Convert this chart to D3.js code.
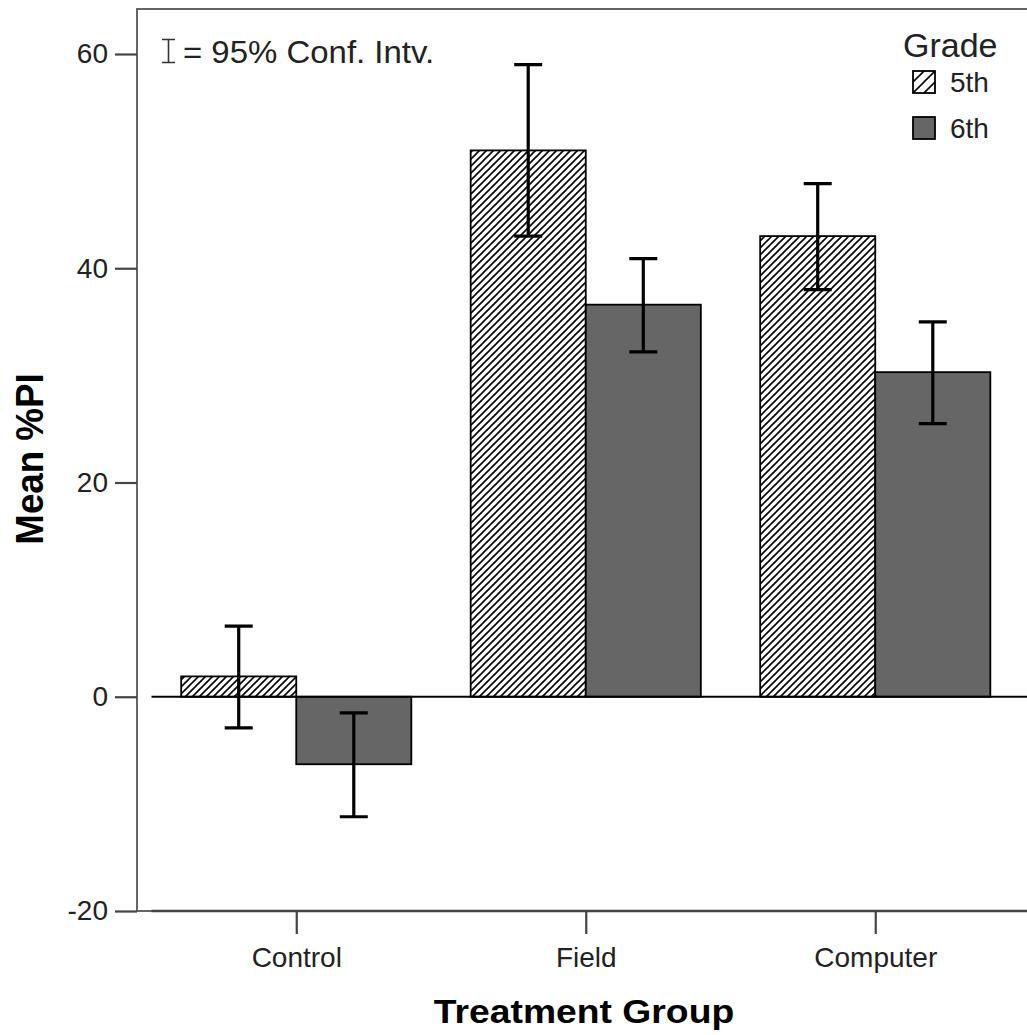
<!DOCTYPE html>
<html>
<head>
<meta charset="utf-8">
<script src="https://cdn.jsdelivr.net/npm/d3@7"></script>
<style>
  body { margin: 0; background: #fff; }
  text { font-family: "Liberation Sans", Arial, sans-serif; }
</style>
</head>
<body>
<svg id="chart" width="1027" height="1035"></svg>
<script>
// data
const categories = ["Control", "Field", "Computer"]
const grades = ["5th", "6th"]
const mean5th = [1.9, 51.0, 43.0]
const mean6th = [-6.3, 36.6, 30.3]
const lo5th = [-2.9, 43.0, 38.0]
const hi5th = [6.6, 59.0, 47.9]
const lo6th = [-11.2, 32.2, 25.5]
const hi6th = [-1.5, 40.9, 35.0]
const yTicks = [-20, 0, 20, 40, 60]

const rows = categories.flatMap((c, i) => [
    {cat: c, grade: "5th", mean: mean5th[i], lo: lo5th[i], hi: hi5th[i]},
    {cat: c, grade: "6th", mean: mean6th[i], lo: lo6th[i], hi: hi6th[i]}
])

const svg = d3.select("#chart")
const frameLeft = 137, frameTop = 9, frameBottom = 911, plotLeft = 151.5, plotRight = 1020

const x = d3.scalePoint().domain(categories).range([plotLeft, plotRight]).padding(0.5)
const groupW = x.step() * 0.795
const xg = d3.scaleBand().domain(grades).range([-groupW / 2, groupW / 2])
const y = d3.scaleLinear().domain([-20, 64.2]).range([frameBottom, frameTop])

const fills = {"5th": "url(#hatch)", "6th": "#666666"}

// hatch patterns
const defs = svg.append("defs")
const makeHatch = (id, s) => {
    defs.append("pattern")
        .attr("id", id)
        .attr("patternUnits", "userSpaceOnUse")
        .attr("width", s).attr("height", s)
      .append("path")
        .attr("d", `M${-s / 4},${s / 4} l${s / 2},${-s / 2} M0,${s} l${s},${-s} M${s * 0.75},${s * 1.25} l${s / 2},${-s / 2}`)
        .attr("stroke", "#000")
        .attr("stroke-width", 1.6)
}
makeHatch("hatch", 7)
makeHatch("hatchBig", 11)

// frame
svg.append("rect")
    .attr("x", frameLeft).attr("y", frameTop)
    .attr("width", 1040 - frameLeft).attr("height", frameBottom - frameTop)
    .attr("fill", "none")
    .attr("stroke", "#555").attr("stroke-width", 1.8)

// x axis line
svg.append("line")
    .attr("x1", plotLeft).attr("x2", 1040)
    .attr("y1", frameBottom).attr("y2", frameBottom)
    .attr("stroke", "#444").attr("stroke-width", 2.4)

// y axis (plain hyphen for negatives, as in the original)
const yAxis = svg.append("g")
    .attr("transform", `translate(${frameLeft},0)`)
    .call(d3.axisLeft(y).tickValues(yTicks).tickFormat(d => String(d)).tickSize(22).tickPadding(7))
yAxis.select(".domain").remove()
yAxis.selectAll(".tick line").attr("stroke", "#444").attr("stroke-width", 2.2)
yAxis.selectAll(".tick text")
    .attr("font-size", 28).attr("fill", "#222")
    .attr("font-family", "Liberation Sans, Arial, sans-serif")

// x axis
const xAxis = svg.append("g")
    .attr("transform", `translate(0,${frameBottom})`)
    .call(d3.axisBottom(x).tickSize(23).tickPadding(13))
xAxis.select(".domain").remove()
xAxis.selectAll(".tick line").attr("stroke", "#444").attr("stroke-width", 2.2)
xAxis.selectAll(".tick text")
    .attr("font-size", 28).attr("fill", "#222")
    .attr("font-family", "Liberation Sans, Arial, sans-serif")

// bars
svg.append("g")
    .selectAll("rect")
    .data(rows)
    .enter()
    .append("rect")
    .attr("x", d => x(d.cat) + xg(d.grade))
    .attr("width", xg.bandwidth())
    .attr("y", d => y(Math.max(0, d.mean)))
    .attr("height", d => Math.abs(y(d.mean) - y(0)))
    .attr("fill", d => fills[d.grade])
    .attr("stroke", "#000")
    .attr("stroke-width", 1.8)

// zero line
svg.append("line")
    .attr("x1", plotLeft).attr("x2", 1040)
    .attr("y1", y(0)).attr("y2", y(0))
    .attr("stroke", "#000").attr("stroke-width", 2)

// error bars
const capW = 14
svg.append("g")
    .selectAll("path")
    .data(rows)
    .enter()
    .append("path")
    .attr("d", d => {
        const cx = x(d.cat) + xg(d.grade) + xg.bandwidth() / 2
        return `M${cx},${y(d.hi)}V${y(d.lo)}M${cx - capW},${y(d.hi)}H${cx + capW}M${cx - capW},${y(d.lo)}H${cx + capW}`
    })
    .attr("fill", "none")
    .attr("stroke", "#000")
    .attr("stroke-width", 3.2)

// CI note
svg.append("path")
    .attr("d", "M162,39.5H175M168.5,39.5V62.5M162,62.5H175")
    .attr("stroke", "#333").attr("stroke-width", 1.6).attr("fill", "none")
svg.append("text")
    .attr("x", 183).attr("y", 63)
    .attr("font-size", 32).attr("fill", "#222")
    .attr("transform", "translate(-5.5,0) scale(1.03,1)")
    .text("= 95% Conf. Intv.")

// legend
const legend = svg.append("g")
legend.append("text")
    .attr("x", 903).attr("y", 57)
    .attr("font-size", 34).attr("fill", "#222")
    .text("Grade")
const legendFills = {"5th": "url(#hatchBig)", "6th": "#666666"}
const legItems = legend.selectAll("g.item")
    .data(grades)
    .enter()
    .append("g")
    .attr("class", "item")
    .attr("transform", (d, i) => `translate(913,${71 + i * 46})`)
legItems.append("rect")
    .attr("width", 22).attr("height", 22)
    .attr("fill", d => legendFills[d])
    .attr("stroke", "#000").attr("stroke-width", 1.8)
legItems.append("text")
    .attr("x", 37).attr("y", 21)
    .attr("font-size", 28).attr("fill", "#222")
    .text(d => d)

// axis titles
svg.append("text")
    .attr("transform", "translate(584,1023) scale(1.13,1)")
    .attr("text-anchor", "middle")
    .attr("font-size", 33).attr("font-weight", "bold")
    .text("Treatment Group")

svg.append("text")
    .attr("transform", "translate(43,459) rotate(-90) scale(1.02,1.08)")
    .attr("text-anchor", "middle")
    .attr("font-size", 36).attr("font-weight", "bold")
    .text("Mean %PI")
</script>
</body>
</html>
